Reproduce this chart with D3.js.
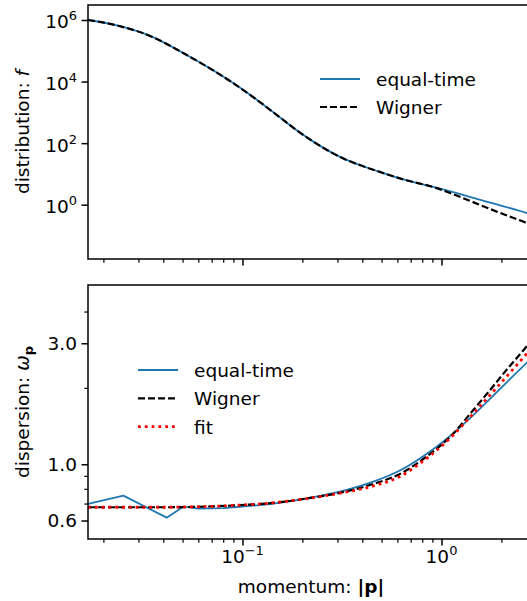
<!DOCTYPE html>
<html><head><meta charset="utf-8">
<script src="https://cdn.jsdelivr.net/npm/d3@7"></script>
<style>body{margin:0;background:#fff}svg{display:block}text{font-family:"DejaVu Sans",sans-serif;fill:#000}</style>
</head><body><svg id="c" width="527" height="601"></svg>
<script>
// ---------- data ----------
const pTop = [0.01675, 0.0237, 0.035, 0.0514, 0.0753, 0.0917, 0.1179, 0.1375, 0.1544, 0.1872, 0.227, 0.275, 0.333, 0.404, 0.49, 0.643, 0.945, 1.144, 1.385, 1.68, 2.05, 2.69, 3.0];
const fEqual  = [1.0e6, 6.53e5, 2.88e5, 7.83e4, 1.85e4, 8.13e3, 2.57e3, 1.213e3, 682, 261, 112, 53.0, 28.6, 17.8, 11.64, 6.61, 3.55, 2.57, 1.80, 1.26, 0.891, 0.537, 0.437];
const fWigner = [1.0e6, 6.53e5, 2.88e5, 7.83e4, 1.85e4, 8.13e3, 2.57e3, 1.213e3, 682, 261, 112, 53.0, 28.6, 17.8, 11.64, 6.61, 3.47, 2.19, 1.35, 0.813, 0.490, 0.251, 0.182];

const pBot = [0.01675, 0.0252, 0.0416, 0.0505, 0.06, 0.08, 0.097, 0.143, 0.21, 0.309, 0.454, 0.618, 0.81, 1.103, 1.445, 1.753, 2.127, 2.689, 3.0];
const omegaEqual  = [0.698, 0.752, 0.616, 0.681, 0.668, 0.672, 0.680, 0.700, 0.734, 0.780, 0.854, 0.945, 1.076, 1.291, 1.562, 1.809, 2.105, 2.518, 2.732];
const omegaWigner = [0.677, 0.677, 0.677, 0.678, 0.680, 0.685, 0.690, 0.704, 0.733, 0.772, 0.836, 0.916, 1.049, 1.281, 1.636, 1.961, 2.361, 2.928, 3.265];
const omegaFit    = [0.677, 0.677, 0.677, 0.678, 0.680, 0.685, 0.690, 0.705, 0.732, 0.770, 0.821, 0.895, 1.030, 1.266, 1.586, 1.874, 2.221, 2.735, 3.016];

const xMajor = [0.1, 1];
const xMajorExp = ["\u22121", "0"];
const xMinor = [0.02,0.03,0.04,0.05,0.06,0.07,0.08,0.09,0.2,0.3,0.4,0.5,0.6,0.7,0.8,0.9,2];
const yTopMajor = [1, 100, 1e4, 1e6];
const yTopExp = ["0", "2", "4", "6"];
const yBotMajor = [0.6, 1.0, 3.0];
const yBotLabels = ["0.6", "1.0", "3.0"];
const yBotMinor = [0.7, 0.8, 0.9, 2, 4];

// ---------- layout ----------
const svg = d3.select("#c");
const X0 = 88, X1 = 534;
const FS = 18.5, SUP = 13;
const blue = "#1f77b4";

const x = d3.scaleLog().domain([0.016737, 2.916]).range([X0, X1]);
const yTop = d3.scaleLog().domain([0.01726, 3.069e6]).range([259, 5]);
const yBot = d3.scaleLog().domain([0.5074, 5.09]).range([539, 285]);

const defs = svg.append("defs");
function clip(id, y0, y1) {
  defs.append("clipPath").attr("id", id).append("rect")
    .attr("x", X0).attr("y", y0).attr("width", X1 - X0).attr("height", y1 - y0);
}
clip("ct", 5, 259); clip("cb", 285, 539);

function panel(y1) {
  const g = svg.append("g");
  g.append("g").attr("transform", `translate(0,${y1})`)
    .call(d3.axisBottom(x).tickValues(xMajor).tickSize(6.5).tickFormat(""))
    .call(a => a.select(".domain").remove())
    .call(a => a.selectAll("line").attr("stroke", "#000").attr("stroke-width", 1.5));
  g.append("g").attr("transform", `translate(0,${y1})`)
    .call(d3.axisBottom(x).tickValues(xMinor).tickSize(3.7).tickFormat(""))
    .call(a => a.select(".domain").remove())
    .call(a => a.selectAll("line").attr("stroke", "#000").attr("stroke-width", 1.2));
  return g;
}

function frame(g, y0, y1) {
  g.append("rect").attr("x", X0).attr("y", y0).attr("width", X1 - X0).attr("height", y1 - y0)
    .attr("fill", "none").attr("stroke", "#000").attr("stroke-width", 1.5);
}

function drawLine(g, clipId, xs, ys, yScale, style, linearUntil) {
  const pts = xs.map((v, i) => [x(v), yScale(ys[i])]);
  let d;
  if (linearUntil) {
    const a = d3.line().curve(d3.curveLinear)(pts.slice(0, linearUntil + 1));
    const b = d3.line().curve(d3.curveMonotoneX)(pts.slice(linearUntil));
    d = a + "L" + b.slice(1);
  } else {
    d = d3.line().curve(d3.curveMonotoneX)(pts);
  }
  g.append("path").attr("clip-path", `url(#${clipId})`)
    .attr("d", d).attr("fill", "none")
    .attr("stroke", style.color).attr("stroke-width", style.w)
    .attr("stroke-dasharray", style.dash || null)
    .attr("stroke-linejoin", "round");
}

const sBlue = {color: blue, w: 1.8};
const sDash = {color: "#000", w: 2.2, dash: "7,3"};
const sFit = {color: "#ff0000", w: 2.8, dash: "2.8,4"};

// ---------- top panel ----------
const gT = panel(259);
gT.append("g").attr("transform", `translate(${X0},0)`)
  .call(d3.axisLeft(yTop).tickValues(yTopMajor).tickSize(6.5).tickFormat(""))
  .call(a => a.select(".domain").remove())
  .call(a => a.selectAll("line").attr("stroke", "#000").attr("stroke-width", 1.5));
yTopMajor.forEach((v, i) => {
  const t = gT.append("text").attr("x", X0 - 11).attr("y", yTop(v) + 8.5)
    .attr("text-anchor", "end").attr("font-size", FS);
  t.append("tspan").text("10");
  t.append("tspan").attr("dy", -8).attr("font-size", SUP).text(yTopExp[i]);
});
drawLine(gT, "ct", pTop, fEqual, yTop, sBlue);
drawLine(gT, "ct", pTop, fWigner, yTop, sDash);
frame(gT, 5, 259);
{
  const t = gT.append("text").attr("transform", "translate(29,132) rotate(-90)")
    .attr("text-anchor", "middle").attr("font-size", FS);
  t.append("tspan").text("distribution: ");
  t.append("tspan").attr("font-style", "italic").text("f");
}
const legT = [{label: "equal-time", s: sBlue}, {label: "Wigner", s: sDash}];
legT.forEach((d, i) => {
  const yy = 79 + i * 28;
  gT.append("line").attr("x1", 320).attr("x2", 360).attr("y1", yy).attr("y2", yy)
    .attr("stroke", d.s.color).attr("stroke-width", d.s.w).attr("stroke-dasharray", d.s.dash || null);
  gT.append("text").attr("x", 376).attr("y", yy + 7).attr("font-size", FS).text(d.label);
});

// ---------- bottom panel ----------
const gB = panel(539);
gB.append("g").attr("transform", `translate(${X0},0)`)
  .call(d3.axisLeft(yBot).tickValues(yBotMajor).tickSize(6.5).tickFormat(""))
  .call(a => a.select(".domain").remove())
  .call(a => a.selectAll("line").attr("stroke", "#000").attr("stroke-width", 1.5));
gB.append("g").attr("transform", `translate(${X0},0)`)
  .call(d3.axisLeft(yBot).tickValues(yBotMinor).tickSize(3.7).tickFormat(""))
  .call(a => a.select(".domain").remove())
  .call(a => a.selectAll("line").attr("stroke", "#000").attr("stroke-width", 1.2));
yBotMajor.forEach((v, i) => {
  gB.append("text").attr("x", X0 - 11).attr("y", yBot(v) + 6.8)
    .attr("text-anchor", "end").attr("font-size", FS).text(yBotLabels[i]);
});
xMajor.forEach((v, i) => {
  const t = gB.append("text").attr("x", x(v)).attr("y", 563)
    .attr("text-anchor", "middle").attr("font-size", FS);
  t.append("tspan").text("10");
  t.append("tspan").attr("dy", -8).attr("font-size", SUP).text(xMajorExp[i]);
});
drawLine(gB, "cb", pBot, omegaEqual, yBot, sBlue, 5);
drawLine(gB, "cb", pBot, omegaWigner, yBot, sDash);
drawLine(gB, "cb", pBot, omegaFit, yBot, sFit);
frame(gB, 285, 539);
{
  const t = gB.append("text").attr("transform", "translate(29,412) rotate(-90)")
    .attr("text-anchor", "middle").attr("font-size", FS);
  t.append("tspan").text("dispersion: ");
  t.append("tspan").attr("font-style", "italic").text("\u03c9");
  t.append("tspan").attr("dy", 4).attr("font-size", SUP).attr("font-weight", "bold").text("p");
}
{
  const t = gB.append("text").attr("x", 311).attr("y", 593)
    .attr("text-anchor", "middle").attr("font-size", FS);
  t.append("tspan").text("momentum: ");
  t.append("tspan").attr("font-weight", "bold").text("|p|");
}
const legB = [{label: "equal-time", s: sBlue}, {label: "Wigner", s: sDash}, {label: "fit", s: sFit}];
legB.forEach((d, i) => {
  const yy = 370 + i * 28.3;
  gB.append("line").attr("x1", 138).attr("x2", 178).attr("y1", yy).attr("y2", yy)
    .attr("stroke", d.s.color).attr("stroke-width", d.s.w).attr("stroke-dasharray", d.s.dash || null);
  gB.append("text").attr("x", 194).attr("y", yy + 7).attr("font-size", FS).text(d.label);
});
</script></body></html>
